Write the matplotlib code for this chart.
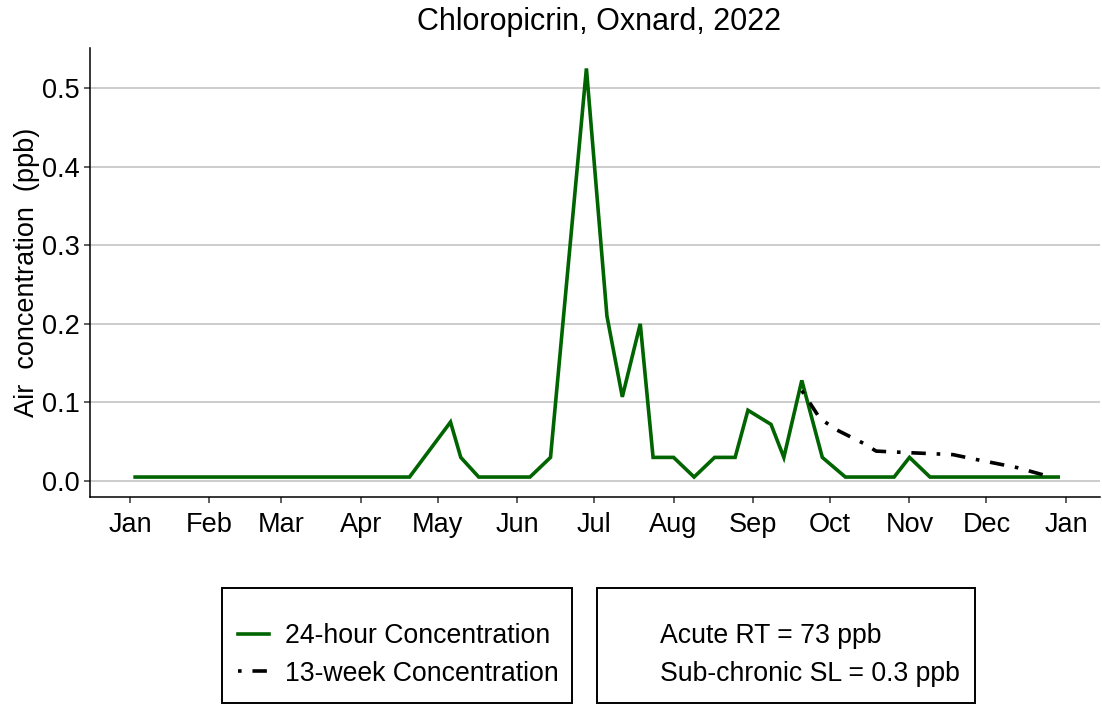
import numpy as np
import pandas as pd
import matplotlib
matplotlib.use("Agg")
import matplotlib.pyplot as plt
import matplotlib.dates as mdates
from matplotlib.lines import Line2D
from matplotlib.patches import Rectangle

plt.rcParams['font.family'] = ['Liberation Sans', 'DejaVu Sans']

# 24-hour samples (vertices)
day_dates = ["2022-01-03", "2022-04-20", "2022-05-06", "2022-05-10", "2022-05-17",
             "2022-06-06", "2022-06-14", "2022-06-28", "2022-07-06", "2022-07-12",
             "2022-07-19", "2022-07-24", "2022-08-01", "2022-08-09", "2022-08-17",
             "2022-08-25", "2022-08-30", "2022-09-08", "2022-09-13", "2022-09-20",
             "2022-09-28", "2022-10-07", "2022-10-26", "2022-11-01", "2022-11-09",
             "2022-12-29"]
day_values = [0.005, 0.005, 0.075, 0.03, 0.005,
              0.005, 0.03, 0.525, 0.21, 0.107,
              0.2, 0.03, 0.03, 0.005, 0.03,
              0.03, 0.09, 0.072, 0.03, 0.128,
              0.03, 0.005, 0.005, 0.03, 0.005,
              0.005]

# 13-week rolling concentration
week_dates = ["2022-09-20", "2022-09-27", "2022-10-03", "2022-10-14", "2022-10-19",
              "2022-11-01", "2022-11-18", "2022-11-26", "2022-12-13", "2022-12-24"]
week_values = [0.115, 0.08, 0.066, 0.048, 0.038,
               0.036, 0.0335, 0.028, 0.017, 0.007]

yticks = [0.0, 0.1, 0.2, 0.3, 0.4, 0.5]
month_ticks = pd.date_range("2022-01-01", "2023-01-01", freq="MS")

green = "#006400"
W, H = 1102, 704
fig = plt.figure(figsize=(W / 100, H / 100), dpi=100)
ax = fig.add_axes([90 / W, 1 - 497 / H, (1100 - 90) / W, (497 - 48) / H])

x1 = pd.to_datetime(day_dates)
x2 = pd.to_datetime(week_dates)
ax.plot(x1, day_values, color=green, lw=2.6, solid_joinstyle="miter", zorder=3)
ax.plot(x2, week_values, color="black", lw=2.6, linestyle=(0, (1, 3, 4, 3)),
        dash_capstyle="butt", zorder=3)

start = pd.Timestamp("2022-01-01")
ax.set_xlim(start - pd.Timedelta(days=15.6), start + pd.Timedelta(days=378.3))
ax.set_ylim(-0.0204, 0.551)
ax.set_yticks(yticks)
ax.set_yticklabels([f"{v:.1f}" for v in yticks])
ax.set_xticks(month_ticks)
ax.xaxis.set_major_formatter(mdates.DateFormatter("%b"))

ax.grid(axis="y", color="#bebebe", lw=1.1)
ax.set_axisbelow(True)
for s in ["top", "right"]:
    ax.spines[s].set_visible(False)
for s in ["left", "bottom"]:
    ax.spines[s].set_linewidth(1.1)
    ax.spines[s].set_color("black")
ax.tick_params(axis="both", labelsize=19.5, length=4.5, width=1.1,
               color="#333333", labelcolor="black")
ax.tick_params(axis="x", pad=6)
ax.tick_params(axis="y", pad=3)

ax.set_ylabel("Air  concentration  (ppb)", fontsize=19.5, labelpad=1.5)
fig.text(599 / W, 1 - 22 / H, "Chloropicrin, Oxnard, 2022", fontsize=22,
         ha="center", va="center")

# legend boxes
for x0, x1b in [(222, 572), (597, 975)]:
    fig.add_artist(Rectangle((x0 / W, 1 - 703 / H), (x1b - x0) / W, (703 - 588) / H,
                             transform=fig.transFigure, fill=False,
                             edgecolor="black", lw=1.4))

h1 = [Line2D([], [], color=green, lw=2.6),
      Line2D([], [], color="black", lw=2.6, linestyle=(0, (1, 3, 4, 3)))]
fig.legend(h1, ["24-hour Concentration", "13-week Concentration"],
           loc="center left", bbox_to_anchor=(238 / W, 1 - 655 / H),
           frameon=False, fontsize=19.2, handlelength=1.15, handletextpad=0.62,
           labelspacing=0.42, borderpad=0, borderaxespad=0)

h2 = [Line2D([], [], color="none"), Line2D([], [], color="none")]
fig.legend(h2, ["Acute RT = 73 ppb", "Sub-chronic SL = 0.3 ppb"],
           loc="center left", bbox_to_anchor=(613 / W, 1 - 655 / H),
           frameon=False, fontsize=19.2, handlelength=1.15, handletextpad=0.62,
           labelspacing=0.42, borderpad=0, borderaxespad=0)

fig.savefig("out.png", dpi=100)
